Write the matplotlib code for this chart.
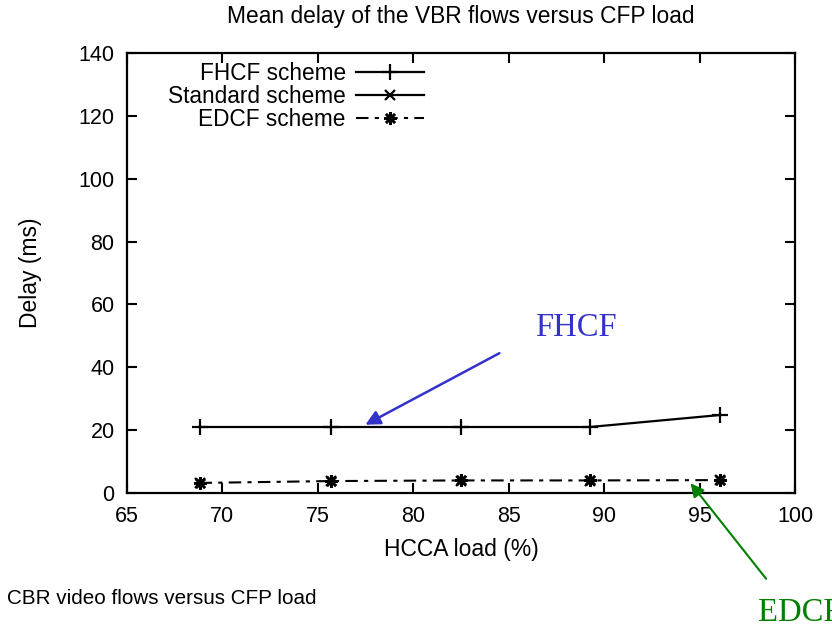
import matplotlib
matplotlib.use('Agg')
import matplotlib.pyplot as plt
from matplotlib.lines import Line2D

# HCCA load (%) and mean delay (ms)
hcca_load = [68.8, 75.7, 82.5, 89.25, 96.05]
fhcf_delay = [21.0, 21.0, 21.0, 21.0, 24.8]
standard_delay = [3.1, 3.7, 3.9, 3.9, 4.0]
edcf_delay = [3.2, 3.8, 4.0, 4.0, 4.1]

series_labels = ['FHCF scheme', 'Standard scheme', 'EDCF scheme']
x_ticks = [65, 70, 75, 80, 85, 90, 95, 100]
y_ticks = [0, 20, 40, 60, 80, 100, 120, 140]

plt.rcParams['font.family'] = ['Liberation Sans', 'DejaVu Sans']

fig = plt.figure(figsize=(8.32, 6.29), dpi=100)
ax = fig.add_axes([127 / 832, 1 - 493 / 629, (795 - 127) / 832, (493 - 53) / 629])

# data
ax.plot(hcca_load, fhcf_delay, color='black', lw=1.6, marker='+', ms=11, mew=1.6)
ax.plot(hcca_load, standard_delay, color='black', ls='none', marker='x', ms=7, mew=1.6)
ax.plot(hcca_load, edcf_delay, color='black', lw=1.5, dashes=(6, 3, 2, 3),
        marker=(8, 2, 0), ms=9, mew=1.8)

ax.set_xlim(65, 100)
ax.set_ylim(0, 140)
ax.set_xticks(x_ticks)
ax.set_yticks(y_ticks)
ax.tick_params(direction='in', length=7, width=1.5, labelsize=15.5, pad=9,
               top=True, right=True)
for s in ax.spines.values():
    s.set_linewidth(1.6)

ax.set_xlabel('HCCA load (%)', fontsize=16.5, labelpad=8)
ax.set_ylabel('Delay (ms)', fontsize=16.5, labelpad=26)
fig.text(461 / 832, 1 - 17 / 629, 'Mean delay of the VBR flows versus CFP load',
         ha='center', va='center', fontsize=16.4)

# legend gnuplot style: text right aligned, sample on the right
handles = [
    Line2D([], [], color='black', lw=1.6, marker='+', ms=11, mew=1.6),
    Line2D([], [], color='black', lw=1.6, marker='x', ms=7, mew=1.6),
    Line2D([], [], color='black', lw=1.5, dashes=(6, 3, 2, 3), marker=(8, 2, 0), ms=9, mew=1.8),
]
ax.legend(handles, series_labels, markerfirst=False, frameon=False, fontsize=16.3,
          loc='upper left', bbox_to_anchor=(168 / 832, 1 - 62 / 629),
          bbox_transform=fig.transFigure, borderpad=0, borderaxespad=0,
          labelspacing=0.0, handlelength=3.0, handletextpad=0.45)

# annotations
ax.annotate('', xy=(77.36, 21.3), xytext=(84.64, 44.9),
            arrowprops=dict(arrowstyle='-|>', color='#3333cc', lw=1.8, mutation_scale=22))
ax.text(86.4, 52.5, 'FHCF', color='#3333cc', fontsize=23.5, family='Liberation Serif',
        va='center', ha='left')
ax.annotate('', xy=(94.44, 3.8), xytext=(98.58, -28.0), annotation_clip=False,
            arrowprops=dict(arrowstyle='-|>', color='#008000', lw=1.5, mutation_scale=20))
fig.text(758 / 832, 1 - 613 / 629, 'EDCF', color='#008000', fontsize=23.5,
         family='Liberation Serif', va='center', ha='left')

fig.text(7 / 832, 1 - 598 / 629, 'CBR video flows versus CFP load', fontsize=14.9,
         ha='left', va='center')

fig.savefig('out.png', dpi=100, facecolor='white')
